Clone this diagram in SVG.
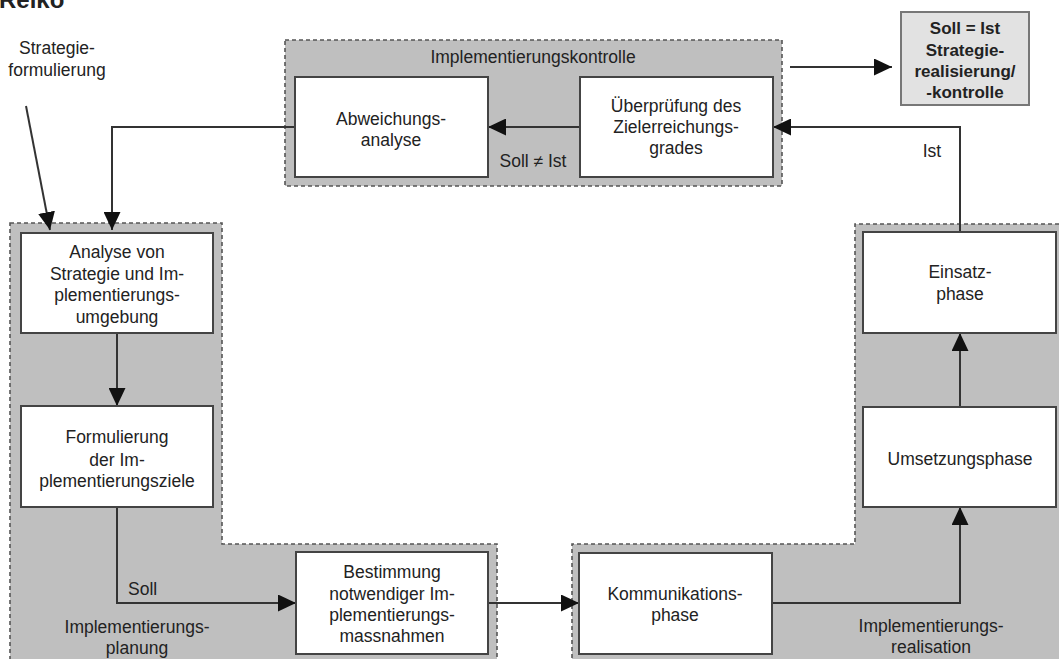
<svg xmlns="http://www.w3.org/2000/svg" width="1059" height="659" viewBox="0 0 1059 659">
  <defs>
    <style>
      .zone { fill: #bfbfbf; stroke: #555; stroke-width: 1.6; stroke-dasharray: 4 3; }
      .box { fill: #ffffff; stroke: #444; stroke-width: 2; }
      .result { fill: #e2e2e2; stroke: #777; stroke-width: 2; }
      .t { font-family: "Liberation Sans", Arial, sans-serif; font-size: 17.5px; fill: #222; text-anchor: middle; }
      .b { font-family: "Liberation Sans", Arial, sans-serif; font-size: 17px; font-weight: bold; fill: #222; text-anchor: middle; }
      .edge { fill: none; stroke: #333; stroke-width: 2; }
      .arrow { marker-end: url(#head); }
    </style>
    <marker id="head" viewBox="0 0 18 17" refX="18" refY="8.5" markerWidth="18" markerHeight="17" markerUnits="userSpaceOnUse" orient="auto">
      <path d="M0,0 L18,8.5 L0,17 z" fill="#111"/>
    </marker>
  </defs>

  <rect width="1059" height="659" fill="#ffffff"/>

  <!-- heading, cut off at the top edge -->
  <text x="-1" y="8" style="font-family:'Liberation Sans',Arial,sans-serif;font-size:24px;font-weight:bold;fill:#222">Reiko</text>

  <!-- phase zones -->
  <g id="zone-kontrolle">
    <rect class="zone" x="285" y="40" width="497" height="146"/>
    <text class="t" x="533" y="63">Implementierungskontrolle</text>
  </g>
  <g id="zone-planung">
    <path class="zone" d="M10,223 H222 V544 H497 V665 H10 Z"/>
    <text class="t" x="137" y="633">Implementierungs-</text>
    <text class="t" x="137" y="654">planung</text>
  </g>
  <g id="zone-realisation">
    <path class="zone" d="M572,665 V544 H855 V224 H1066 V665 Z"/>
    <text class="t" x="931" y="632">Implementierungs-</text>
    <text class="t" x="931" y="653">realisation</text>
  </g>

  <!-- connectors -->
  <g id="connectors">
    <line class="edge arrow" x1="26" y1="106" x2="50" y2="230"/>
    <polyline class="edge arrow" points="295,127 112,127 112,230"/>
    <line class="edge arrow" x1="117" y1="333" x2="117" y2="406"/>
    <polyline class="edge arrow" points="117,507 117,603 296,603"/>
    <line class="edge arrow" x1="488" y1="603" x2="579" y2="603"/>
    <polyline class="edge arrow" points="772,603 960,603 960,507"/>
    <line class="edge arrow" x1="960" y1="407" x2="960" y2="333"/>
    <polyline class="edge arrow" points="960,232 960,127 773,127"/>
    <line class="edge arrow" x1="580" y1="127" x2="488" y2="127"/>
    <line class="edge arrow" x1="790" y1="67" x2="892" y2="67"/>
    <text class="t" x="533" y="167">Soll ≠ Ist</text>
    <text class="t" x="932" y="157">Ist</text>
    <text class="t" x="128" y="595" style="text-anchor:start">Soll</text>
  </g>

  <!-- process steps -->
  <g id="strategieformulierung">
    <text class="t" x="57" y="54">Strategie-</text>
    <text class="t" x="57" y="76">formulierung</text>
  </g>

  <g id="abweichungsanalyse">
    <rect class="box" x="295" y="77" width="193" height="100"/>
    <text class="t" x="391" y="125">Abweichungs-</text>
    <text class="t" x="391" y="146">analyse</text>
  </g>

  <g id="ueberpruefung">
    <rect class="box" x="580" y="77" width="193" height="100"/>
    <text class="t" x="676" y="112">Überprüfung des</text>
    <text class="t" x="676" y="133">Zielerreichungs-</text>
    <text class="t" x="676" y="154">grades</text>
  </g>

  <g id="soll-ist">
    <rect class="result" x="901" y="12" width="128" height="93"/>
    <text class="b" x="965" y="34">Soll = Ist</text>
    <text class="b" x="965" y="56">Strategie-</text>
    <text class="b" x="965" y="77">realisierung/</text>
    <text class="b" x="965" y="98">-kontrolle</text>
  </g>

  <g id="analyse">
    <rect class="box" x="21" y="233" width="192" height="100"/>
    <text class="t" x="117" y="258">Analyse von</text>
    <text class="t" x="117" y="279.5">Strategie und Im-</text>
    <text class="t" x="117" y="301">plementierungs-</text>
    <text class="t" x="117" y="322.5">umgebung</text>
  </g>

  <g id="formulierung">
    <rect class="box" x="21" y="406" width="192" height="101"/>
    <text class="t" x="117" y="443">Formulierung</text>
    <text class="t" x="117" y="466">der Im-</text>
    <text class="t" x="117" y="487">plementierungsziele</text>
  </g>

  <g id="bestimmung">
    <rect class="box" x="296" y="552" width="192" height="102"/>
    <text class="t" x="392" y="578">Bestimmung</text>
    <text class="t" x="392" y="600">notwendiger Im-</text>
    <text class="t" x="392" y="621">plementierungs-</text>
    <text class="t" x="392" y="642">massnahmen</text>
  </g>

  <g id="kommunikation">
    <rect class="box" x="579" y="553" width="193" height="101"/>
    <text class="t" x="675" y="600">Kommunikations-</text>
    <text class="t" x="675" y="621">phase</text>
  </g>

  <g id="umsetzung">
    <rect class="box" x="863" y="407" width="193" height="100"/>
    <text class="t" x="960" y="465">Umsetzungsphase</text>
  </g>

  <g id="einsatz">
    <rect class="box" x="863" y="232" width="193" height="101"/>
    <text class="t" x="960" y="278">Einsatz-</text>
    <text class="t" x="960" y="300">phase</text>
  </g>
</svg>
